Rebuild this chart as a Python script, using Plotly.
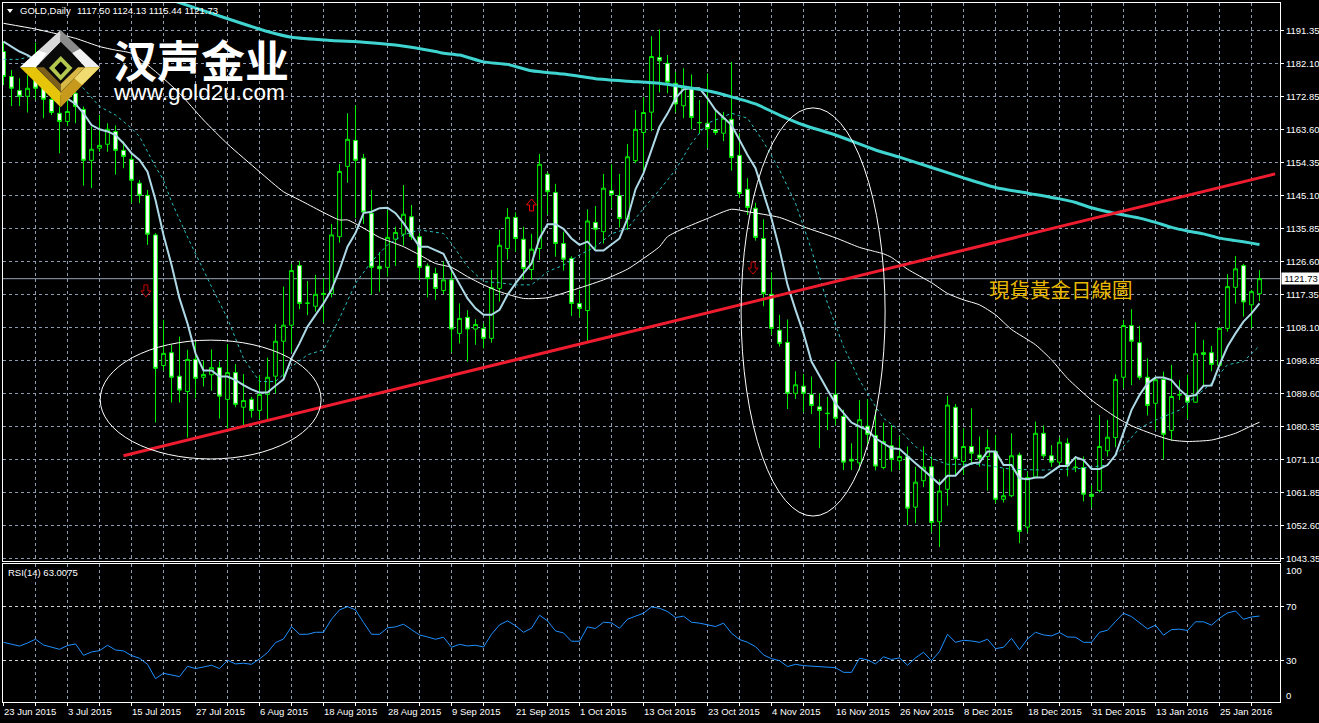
import plotly.graph_objects as go

W, H = 1319, 723

opens = [1185.4,1178.4,1174.5,1172.85,1181.2,1175.1,1172.0,1168.1,1165.8,1173.7,
1169.2,1154.9,1158.3,1159.4,1163.0,1157.7,1155.2,1148.5,1145.1,1134.0,
1097.4,1101.0,1094.4,1090.1,1099.1,1094.1,1094.8,1096.8,1087.9,1095.4,
1085.7,1087.9,1084.8,1089.3,1094.4,1104.2,1108.7,1125.4,1114.8,1114.0,
1117.6,1117.6,1133.5,1153.2,1160.5,1155.5,1140.1,1125.2,1124.9,1132.8,
1134.2,1139.1,1133.5,1125.3,1123.2,1118.4,1121.4,1106.4,1110.9,1107.6,
1107.8,1105.0,1119.0,1130.2,1138.9,1132.8,1124.3,1130.2,1151.0,1145.9,
1131.6,1127.4,1114.8,1112.8,1137.5,1134.9,1146.4,1145.0,1138.4,1154.8,
1162.7,1168.4,1183.7,1182.1,1176.5,1170.2,1175.0,1165.4,1165.3,1163.5,
1162.5,1166.4,1156.3,1146.8,1141.5,1133.0,1117.35,1107.3,1103.9,1089.6,
1091.6,1089.3,1085.8,1083.9,1089.3,1083.1,1071.1,1070.1,1080.4,1077.8,
1068.8,1074.9,1070.7,1071.9,1057.7,1065.1,1069.0,1053.6,1062.7,1085.7,
1070.5,1074.7,1072.3,1071.9,1073.3,1059.9,1060.9,1072.3,1052.1,1066.1,
1078.4,1072.1,1070.3,1075.6,1068.8,1068.8,1061.3,1062.3,1073.5,1077.2,
1094.1,1108.6,1103.8,1094.1,1086.8,1093.5,1079.2,1089.1,1088.9,1087.1,
1101.0,1101.0,1097.4,1107.8,1119.3,1125.4,1114.4,1117.5]

highs = [1188.2,1180.2,1177.9,1178.8,1187.9,1177.4,1173.7,1170.0,1171.8,1176.5,
1170.0,1164.4,1167.6,1165.3,1164.7,1160.2,1156.4,1149.4,1146.6,1134.5,
1110.2,1103.2,1105.5,1101.8,1104.1,1098.8,1101.9,1098.5,1103.4,1097.8,
1095.0,1088.6,1094.7,1099.6,1109.0,1119.5,1125.9,1126.7,1121.1,1122.8,
1121.8,1137.1,1153.9,1168.1,1170.4,1156.7,1146.6,1129.2,1141.0,1136.3,
1148.0,1142.4,1134.5,1126.0,1124.8,1126.5,1125.1,1114.8,1112.9,1110.4,
1109.2,1124.2,1135.4,1141.5,1140.3,1136.3,1134.3,1156.7,1151.5,1148.3,
1134.9,1128.0,1118.6,1141.2,1142.1,1151.1,1153.8,1151.1,1159.5,1169.0,
1172.7,1189.7,1191.6,1184.4,1179.7,1180.7,1179.0,1171.8,1179.3,1169.0,
1168.5,1182.5,1162.5,1149.9,1143.0,1138.4,1123.5,1111.6,1110.3,1095.8,
1095.0,1094.3,1089.6,1088.6,1098.5,1085.0,1075.6,1087.7,1088.0,1085.0,
1081.4,1080.7,1077.5,1074.7,1069.0,1074.7,1071.9,1065.5,1088.9,1086.6,
1079.8,1085.4,1077.5,1079.5,1077.9,1068.6,1078.4,1073.0,1067.7,1081.7,
1080.6,1075.1,1077.3,1077.0,1071.9,1071.9,1063.9,1083.5,1082.1,1094.9,
1110.2,1113.2,1108.5,1099.4,1094.3,1095.7,1097.6,1093.3,1094.8,1109.5,
1104.6,1102.9,1108.1,1123.0,1128.1,1125.9,1118.6,1124.13]

lows = [1176.0,1170.1,1170.1,1168.3,1172.0,1166.7,1167.6,1156.9,1164.5,1165.3,
1147.8,1147.1,1157.3,1157.3,1150.9,1152.7,1142.9,1142.9,1131.2,1081.4,
1096.0,1087.0,1087.0,1077.2,1088.2,1091.5,1090.3,1082.5,1079.8,1085.7,
1080.7,1082.8,1082.4,1082.3,1089.6,1093.8,1101.0,1113.2,1111.5,1112.5,
1109.4,1116.5,1131.8,1148.6,1138.7,1137.1,1117.2,1118.1,1122.3,1125.3,
1131.0,1132.6,1121.4,1116.5,1115.8,1117.4,1101.0,1103.6,1098.5,1103.2,
1102.2,1103.8,1115.3,1127.1,1129.3,1121.4,1121.4,1127.0,1139.6,1127.9,
1124.0,1111.3,1110.9,1104.1,1129.8,1131.6,1141.4,1136.1,1135.4,1154.1,
1150.8,1163.1,1173.9,1173.7,1168.3,1166.7,1163.6,1162.3,1158.3,1162.0,
1160.3,1152.0,1144.4,1139.6,1132.4,1114.0,1106.0,1102.7,1085.2,1088.0,
1084.3,1083.8,1074.2,1079.3,1080.7,1068.1,1068.1,1068.0,1075.0,1068.0,
1068.3,1067.7,1068.1,1052.7,1053.2,1063.3,1050.6,1046.5,1058.1,1066.7,
1066.7,1069.8,1069.0,1062.3,1058.8,1059.0,1060.5,1047.6,1050.6,1065.8,
1071.4,1069.0,1069.0,1066.3,1067.5,1059.3,1057.6,1061.8,1071.9,1074.5,
1091.0,1091.9,1093.4,1083.4,1079.3,1071.1,1076.3,1087.7,1082.4,1087.0,
1091.8,1095.8,1097.3,1106.9,1114.8,1111.1,1107.8,1115.44]

closes = [1178.4,1175.1,1172.85,1175.1,1175.1,1172.0,1168.3,1165.8,1168.6,1170.0,
1154.9,1158.0,1159.1,1163.6,1157.7,1156.0,1149.3,1145.1,1134.2,1096.6,
1100.8,1094.1,1090.5,1099.1,1093.8,1094.9,1096.8,1088.8,1095.4,1086.5,
1087.6,1084.8,1089.3,1094.1,1104.2,1108.7,1124.0,1114.8,1114.9,1117.35,
1117.3,1134.0,1151.8,1160.8,1154.9,1140.4,1124.9,1124.5,1133.3,1134.7,
1139.8,1133.5,1124.9,1121.8,1119.0,1121.4,1107.6,1110.6,1107.6,1108.9,
1105.0,1119.2,1131.1,1138.9,1133.0,1124.6,1130.0,1153.8,1146.1,1131.6,
1127.2,1114.8,1113.4,1137.9,1135.6,1147.1,1145.3,1138.6,1155.9,1163.6,
1168.3,1184.0,1182.8,1176.8,1170.7,1175.5,1166.9,1165.5,1163.8,1162.7,
1166.7,1155.7,1145.6,1141.7,1133.3,1117.6,1107.8,1103.6,1089.6,1092.0,
1089.6,1086.2,1084.8,1084.0,1082.6,1070.3,1070.6,1082.2,1078.1,1069.2,
1076.1,1071.1,1071.9,1057.4,1064.7,1068.9,1053.4,1062.2,1086.3,1071.4,
1074.7,1072.8,1071.4,1074.4,1059.9,1060.9,1072.1,1050.9,1066.0,1078.4,
1072.1,1070.3,1075.9,1069.2,1068.9,1061.3,1060.7,1074.7,1077.3,1093.5,
1108.6,1104.2,1094.1,1086.2,1093.4,1078.1,1088.7,1089.2,1087.1,1100.7,
1100.5,1097.7,1107.8,1119.5,1124.5,1115.2,1118.1,1121.73]

ma_fast = [1188.2,1186.8,1185.4,1184.4,1183.0,1180.2,1176.5,1173.7,1172.3,1170.7,
1168.1,1164.8,1163.6,1163.0,1162.0,1159.7,1156.9,1155.0,1151.7,1143.8,
1134.0,1125.6,1116.2,1109.2,1100.8,1096.0,1096.0,1094.3,1094.3,1093.3,
1091.9,1090.7,1089.8,1089.8,1091.7,1093.5,1099.4,1103.6,1108.3,1111.6,
1114.8,1118.6,1124.2,1130.7,1134.5,1140.1,1140.5,1141.5,1141.6,1140.1,
1137.3,1134.0,1130.7,1130.7,1129.6,1128.7,1124.2,1120.0,1116.2,1113.4,
1111.6,1111.6,1113.0,1117.2,1120.4,1123.2,1126.0,1133.0,1137.0,1137.0,
1135.7,1133.0,1131.2,1132.1,1129.6,1129.6,1131.4,1133.0,1138.6,1146.8,
1151.3,1157.8,1164.3,1168.0,1172.3,1174.8,1175.1,1175.1,1172.3,1169.0,
1167.0,1164.8,1160.6,1156.4,1152.7,1145.7,1138.6,1130.0,1120.0,1113.0,
1106.4,1098.5,1094.3,1090.5,1086.8,1084.0,1081.4,1080.3,1079.3,1077.0,
1075.6,1074.2,1074.0,1071.9,1070.0,1068.1,1066.0,1064.1,1066.5,1066.5,
1068.9,1070.0,1070.2,1073.3,1073.3,1069.5,1069.5,1065.8,1065.5,1066.0,
1066.0,1067.5,1069.2,1069.2,1071.7,1070.9,1068.4,1068.4,1069.5,1072.3,
1078.9,1084.9,1089.1,1092.4,1094.0,1094.0,1093.3,1090.7,1088.7,1089.1,
1091.7,1091.8,1097.6,1102.7,1106.4,1109.7,1112.0,1114.8]

ma_mid_idx = [0,2,4,10,12,14,16,17,19,20,21,23,26,28,30,32,34,36,38,40,42,44,46,48,50,52,
55,56,58,60,62,64,66,68,70,72,74,76,78,80,82,84,86,88,90,91,93,95,97,99,101,103,105,107,109,
110,112,114,116,118,122,126,130,134,138,140,142,144,147,149,151,153,155,157]
ma_mid_val = [1183.2,1183.2,1184.5,1175.1,1170.0,1167.6,1163.9,1161.6,1153.1,1149.4,1143.3,1133.4,1119.5,1110.6,1099.4,1092.9,1092.9,1097.0,1100.4,1101.8,1110.6,1120.4,1126.5,1131.2,1134.0,1135.4,
1134.4,1131.6,1125.1,1120.9,1120.6,1120.0,1120.0,1123.7,1125.5,1128.4,1130.7,1134.3,1135.8,1141.4,1146.6,1152.2,1159.7,1165.3,1167.1,1168.1,1166.7,1160.1,1152.2,1142.9,1129.8,1114.8,1102.7,1093.3,1085.9,
1082.6,1079.3,1074.7,1071.4,1069.7,1069.7,1068.3,1068.1,1068.4,1069.5,1074.7,1079.8,1082.1,1084.9,1088.7,1092.4,1097.6,1098.5,1102.9]

ma_slow_idx = [0,4,6,9,12,14,16,19,22,25,28,32,35,37,42,43,45,47,50,52,54,56,58,60,62,65,68,71,75,78,80,82,
83,85,88,91,93,97,100,104,107,109,110,111,113,116,118,120,122,124,126,129,131,133,136,139,141,144,146,148,151,154,156,157]
ma_slow_val = [1193.3,1191.7,1190.7,1189.1,1186.8,1185.8,1184.9,1179.8,1173.7,1166.2,1159.5,1151.7,1146.1,1143.8,1138.2,1138.2,1135.9,1133.3,1130.7,1128.4,1126.0,1124.9,1122.3,1120.0,1118.1,1116.2,1116.4,1118.4,1121.4,1124.4,1127.4,1130.7,
1133.5,1135.8,1138.6,1141.2,1140.5,1138.9,1136.3,1133.2,1130.5,1129.3,1128.7,1127.7,1124.4,1120.6,1117.6,1115.8,1114.4,1111.6,1107.5,1103.2,1099.0,1093.8,1087.7,1083.0,1080.5,1077.9,1076.5,1076.1,1076.5,1078.4,1080.5,1081.5]

ma_long_idx = [21,26,33,36,41,45,49,54,55,57,60,63,66,70,74,78,82,85,88,91,94,97,100,104,
109,112,116,120,124,128,132,134,136,138,140,142,144,146,148,150,152,154,156,157]
ma_long_val = [1199.85,1196.1,1191.0,1189.4,1188.5,1188.0,1187.2,1185.4,1184.9,1184.4,1182.5,1181.8,1180.0,1179.1,1177.8,1177.1,1176.5,1175.5,1174.4,1172.7,1170.7,1167.6,1164.8,1162.0,
1157.8,1155.8,1152.9,1150.0,1147.3,1145.7,1144.1,1143.1,1141.6,1140.5,1139.6,1138.7,1137.5,1136.1,1135.1,1134.3,1133.1,1132.4,1131.7,1131.3]

rsi = [43.4,42.1,40.6,42.9,45.7,41.4,39.7,38.2,41.0,42.2,33.7,36.2,37.2,41.2,37.7,37.0,33.5,31.5,27.0,16.3,
20.3,18.8,17.8,25.5,23.8,25.0,26.3,23.8,30.0,27.3,27.8,27.0,31.0,35.7,43.2,45.9,55.1,49.4,49.4,50.9,
50.9,60.6,67.6,70.0,67.6,58.2,49.4,49.4,54.2,54.9,56.9,52.9,48.9,47.4,45.7,47.2,39.7,41.9,40.7,41.2,
39.9,49.4,56.4,59.4,55.8,50.9,53.9,63.6,59.4,51.9,50.4,44.2,44.2,54.9,53.7,58.4,57.9,53.9,60.6,62.9,
65.1,69.8,68.8,66.4,61.9,62.9,58.4,57.7,56.2,55.2,57.7,50.2,45.5,43.4,40.2,34.0,31.2,29.7,25.3,27.0,
26.0,25.5,25.3,24.5,24.5,21.0,21.0,31.5,30.3,27.3,32.6,30.6,31.8,26.3,31.8,36.0,29.7,36.5,49.4,43.4,
44.9,44.4,43.4,45.7,38.7,39.7,46.4,37.9,45.9,50.9,48.9,48.2,50.7,47.4,47.2,43.4,43.4,50.9,52.4,58.9,
65.1,62.6,57.7,53.4,56.2,48.7,52.9,53.2,52.2,58.7,58.7,56.2,61.4,65.3,66.8,60.6,62.3,63.0]

date_labels = ["23 Jun 2015","3 Jul 2015","15 Jul 2015","27 Jul 2015","6 Aug 2015","18 Aug 2015","28 Aug 2015",
"9 Sep 2015","21 Sep 2015","1 Oct 2015","13 Oct 2015","23 Oct 2015","4 Nov 2015","16 Nov 2015","26 Nov 2015",
"8 Dec 2015","18 Dec 2015","31 Dec 2015","13 Jan 2016","25 Jan 2016"]
date_label_idx = list(range(0, 160, 8))
price_ticks = [1191.35,1182.10,1172.85,1163.60,1154.35,1145.10,1135.85,1126.60,1117.35,1108.10,
1098.85,1089.60,1080.35,1071.10,1061.85,1052.60,1043.35]
last_price = 1121.73
trend_idx = [15, 158.96]
trend_val = [1072.1, 1151.1]
arrow_idx = [17.8, 66, 93.7]
arrow_val = [1118.3, 1142.4, 1124.7]
arrow_dir = [-1, 1, -1]
arrow_col = ["#c80000", "#f00000", "#c80000"]

x_all = list(range(len(opens)))
FONT = "Liberation Sans"
FS = 9.5

def px(x): return x / W
def py(y): return 1 - y / H

def poly(points, color):
    d = "M " + " L ".join(f"{px(a):.5f},{py(b):.5f}" for a, b in points) + " Z"
    return dict(type="path", path=d, xref="paper", yref="paper", fillcolor=color,
                line=dict(width=0), layer="above")

def arrow(i, v, direction, color):
    s = direction
    pts = [(-2, -6*s), (2, -6*s), (2, 0), (5, 0), (0, 6*s), (-5, 0), (-2, 0)]
    d = "M " + " L ".join(f"{a},{b}" for a, b in pts) + " Z"
    return dict(type="path", path=d, xref="x", yref="y", xsizemode="pixel", ysizemode="pixel",
                xanchor=i, yanchor=v, line=dict(color=color, width=1), fillcolor="rgba(0,0,0,0)", layer="above")

fig = go.Figure()
fig.add_trace(go.Candlestick(x=x_all, open=opens, high=highs, low=lows, close=closes,
    increasing=dict(line=dict(color="#00f000", width=1), fillcolor="#000000"),
    decreasing=dict(line=dict(color="#00f000", width=1), fillcolor="#ffffff"),
    whiskerwidth=0, xaxis="x", yaxis="y", showlegend=False, hoverinfo="skip"))
fig.add_trace(go.Scatter(x=ma_slow_idx, y=ma_slow_val, mode="lines",
    line=dict(color="#ffffff", width=1, shape="spline", smoothing=0.6), xaxis="x", yaxis="y", showlegend=False))
fig.add_trace(go.Scatter(x=ma_mid_idx, y=ma_mid_val, mode="lines",
    line=dict(color="#28c0c0", width=1, dash="3px,3px"), xaxis="x", yaxis="y", showlegend=False))
fig.add_trace(go.Scatter(x=x_all, y=ma_fast, mode="lines",
    line=dict(color="#add8e6", width=2), xaxis="x", yaxis="y", showlegend=False))
fig.add_trace(go.Scatter(x=ma_long_idx, y=ma_long_val, mode="lines",
    line=dict(color="#40d4d0", width=3, shape="spline", smoothing=0.6), xaxis="x", yaxis="y", showlegend=False))
fig.add_trace(go.Scatter(x=trend_idx, y=trend_val, mode="lines",
    line=dict(color="#ee1c2e", width=3), xaxis="x", yaxis="y", showlegend=False))
fig.add_trace(go.Scatter(x=x_all, y=rsi, mode="lines",
    line=dict(color="#1e90ff", width=1), xaxis="x2", yaxis="y2", showlegend=False))

shapes = [
    dict(type="line", xref="paper", yref="y", x0=px(3), x1=px(1280), y0=last_price, y1=last_price,
         line=dict(color="#98a4b2", width=1), layer="below"),
    dict(type="circle", xref="x", yref="y", x0=12.09, x1=39.7, y0=1071.2, y1=1104.5,
         line=dict(color="#ffffff", width=1), layer="above"),
    dict(type="circle", xref="x", yref="y", x0=92.2, x1=110.2, y0=1055.2, y1=1169.6,
         line=dict(color="#ffffff", width=1), layer="above"),
    poly([(7, 9), (13, 9), (10, 13)], "#ffffff"),
]
shapes += [arrow(i, v, s, c) for i, v, s, c in zip(arrow_idx, arrow_val, arrow_dir, arrow_col)]
# logo
cx = 60.7
shapes += [
    poly([(20, 67.3), (cx, 30), (cx, 42), (36, 67.3)], "#d9d9d9"),
    poly([(20, 67.3), (38, 50.8), (47, 53), (36, 67.3)], "#ffffff"),
    poly([(cx, 30), (80, 48.5), (72, 53), (cx, 42)], "#8c8c8c"),
    poly([(80, 48.5), (100, 67.3), (85, 67.3), (72, 53)], "#f0f0f0"),
    poly([(20, 67.3), (cx, 107.3), (cx, 92), (36, 67.3)], "#e6c40a"),
    poly([(100, 67.3), (cx, 107.3), (cx, 92), (85, 67.3)], "#c79a1e"),
    poly([(100, 67.3), (82, 85), (74, 78), (85, 67.3)], "#f0dc70"),
    poly([(cx, 42), (85, 67.3), (cx, 92), (36, 67.3)], "#0a0a0a"),
    poly([(36, 67.3), (cx, 92), (cx, 84), (44, 67.3)], "#7d5f1c"),
    poly([(85, 67.3), (cx, 92), (cx, 84), (78, 67.3)], "#d8b844"),
    poly([(cx, 56), (72.5, 68), (cx, 80.5), (49, 68)], "#b4c850"),
    poly([(cx, 61.5), (67, 68), (cx, 75), (54.5, 68)], "#000000"),
]

def label(xp, yp, text, size=FS, color="#ffffff", family=FONT, **kw):
    return dict(x=px(xp), y=py(yp), xref="paper", yref="paper", text=text, showarrow=False, xanchor="left",
                yanchor="middle", font=dict(family=family, size=size, color=color), **kw)

annotations = [
    label(18, 11, "GOLD,Daily"),
    label(75, 11, "1117.50 1124.13 1115.44 1121.73"),
    label(6, 572, "RSI(14) 63.0075"),
    label(1284, 570, "100"),
    label(1284, 695, "0"),
    dict(x=px(1281), y=last_price, xref="paper", yref="y", text=f"{last_price:.2f}", showarrow=False,
         xanchor="left", yanchor="middle", bgcolor="#ffffff", width=38, height=11, borderpad=0, align="center",
         font=dict(family=FONT, size=FS, color="#000000")),
    label(987, 289, "現貨黃金日線圖", size=20.5, color="#e8b800", family="Noto Sans CJK TC"),
    label(111, 59, "<b>汉声金业</b>", size=44, family="Noto Sans CJK SC"),
    label(111, 93, "www.gold2u.com", size=22.6, family="Liberation Sans"),
]
for i, lab in zip(date_label_idx, date_labels):
    annotations.append(dict(x=i, y=py(711), xref="x", yref="paper", text=lab, showarrow=False, xanchor="left",
                            xshift=-2, yanchor="middle", font=dict(family=FONT, size=FS, color="#ffffff")))

grid_x = list(range(0, 160, 4))
common_x = dict(range=[-0.0625, 159.5625], domain=[px(3), px(1280)], tickvals=grid_x, showticklabels=False,
                showgrid=True, gridcolor="#8c9bb0", griddash="3px,3px", gridwidth=1, zeroline=False,
                showline=True, linecolor="#ffffff", linewidth=1, mirror=True, automargin=False,
                rangeslider=dict(visible=False))
fig.update_layout(
    width=W, height=H, margin=dict(l=0, r=0, t=0, b=0), paper_bgcolor="#000000", plot_bgcolor="#000000",
    showlegend=False, boxgap=0.32, hovermode=False,
    xaxis=dict(**common_x, anchor="y", ticks=""),
    xaxis2=dict(**common_x, anchor="y2", ticks="outside", ticklen=3, tickcolor="#ffffff"),
    yaxis=dict(domain=[py(561), py(3)], range=[1042.6, 1199.0], side="right", anchor="x", tickvals=price_ticks,
               ticktext=[f"{v:.2f}" for v in price_ticks], ticks="outside", ticklen=3, tickcolor="#ffffff",
               tickfont=dict(family=FONT, size=FS, color="#ffffff"), showgrid=True, gridcolor="#8c9bb0",
               griddash="3px,3px", zeroline=False, showline=True, linecolor="#ffffff", mirror=True, automargin=False),
    yaxis2=dict(domain=[py(701.5), py(563.5)], range=[-0.75, 102.2], side="right", anchor="x2", tickvals=[30, 70],
                ticktext=["30", "70"], ticks="outside", ticklen=3, tickcolor="#ffffff",
                tickfont=dict(family=FONT, size=FS, color="#ffffff"), showgrid=True, gridcolor="#d0d4d8",
                griddash="3px,3px", zeroline=False, showline=True, linecolor="#ffffff", mirror=True, automargin=False),
    shapes=shapes, annotations=annotations,
)
fig.write_html("out.html", config=dict(displayModeBar=False),
               post_script="document.body.style.margin='0';document.body.style.background='#000';")
